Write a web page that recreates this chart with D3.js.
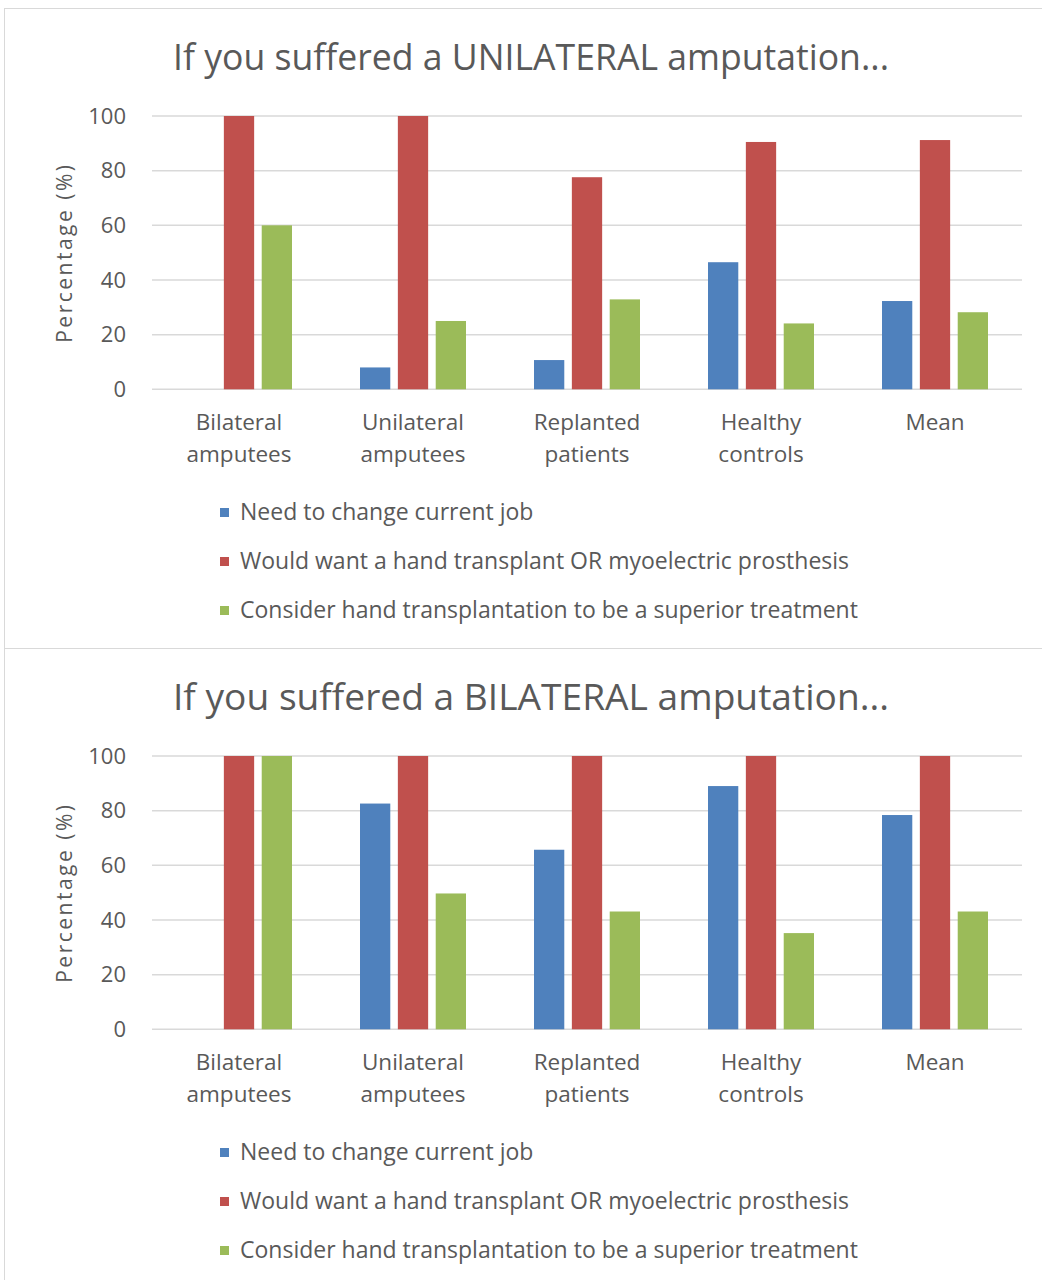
<!DOCTYPE html>
<html>
<head>
<meta charset="utf-8">
<script src="https://cdn.jsdelivr.net/npm/d3@7"></script>
<style>
  body { margin: 0; background: #fff; }
  text { font-family: "Open Sans", sans-serif; fill: #595959; }
</style>
</head>
<body>
<div id="chart"></div>
<script>
// Data
const categories = [["Bilateral", "amputees"], ["Unilateral", "amputees"], ["Replanted", "patients"], ["Healthy", "controls"], ["Mean"]];
const seriesNames = [
    "Need to change current job",
    "Would want a hand transplant OR myoelectric prosthesis",
    "Consider hand transplantation to be a superior treatment"
];
const colors = ["#4F81BD", "#C0504D", "#9BBB59"];
const yTicks = [0, 20, 40, 60, 80, 100];

const uniChangeJob = [0, 8, 10.7, 46.5, 32.3];
const uniWantTransplant = [100, 100, 77.6, 90.5, 91.2];
const uniSuperior = [60, 25, 32.9, 24.1, 28.2];

const biChangeJob = [0, 82.6, 65.7, 89, 78.4];
const biWantTransplant = [100, 100, 100, 100, 100];
const biSuperior = [100, 49.7, 43.1, 35.2, 43.1];

const width = 1042, height = 1280;

const svg = d3.select("#chart")
    .append("svg")
    .attr("width", width)
    .attr("height", height);

function drawChart(top, title, series) {
    const g = svg.append("g").attr("transform", `translate(0,${top})`);

    // box
    g.append("rect")
        .attr("x", 4.5).attr("y", 0.5)
        .attr("width", 1040).attr("height", 640)
        .attr("fill", "none")
        .attr("stroke", "#d9d9d9");

    g.append("text")
        .attr("x", 531).attr("y", 62)
        .attr("text-anchor", "middle")
        .attr("font-size", 36)
        .attr("textLength", 716)
        .attr("lengthAdjust", "spacingAndGlyphs")
        .text(title);

    const x = d3.scaleBand().domain(d3.range(categories.length)).range([152, 1022]);
    const y = d3.scaleLinear().domain([0, 100]).range([381.3, 108]);
    const inner = d3.scaleBand().domain(d3.range(series.length)).range([-53, 53]).paddingInner(0.2);

    // gridlines
    g.append("g")
        .selectAll("line")
        .data(yTicks)
        .join("line")
        .attr("x1", 152).attr("x2", 1022)
        .attr("y1", d => y(d)).attr("y2", d => y(d))
        .attr("stroke", "#d9d9d9")
        .attr("stroke-width", 1.5);

    // y axis
    const yAxis = g.append("g")
        .attr("transform", "translate(126,0)")
        .call(d3.axisLeft(y).tickValues(yTicks).tickSize(0).tickPadding(0));
    yAxis.select(".domain").remove();
    yAxis.selectAll("text")
        .attr("font-size", 22)
        .attr("font-family", "Open Sans, sans-serif")
        .attr("fill", "#595959");

    g.append("text")
        .attr("transform", `translate(72,${y(50)}) rotate(-90)`)
        .attr("text-anchor", "middle")
        .attr("font-size", 21)
        .attr("letter-spacing", 2.5)
        .text("Percentage (%)");

    // bars
    series.forEach((vals, si) => {
        g.append("g")
            .selectAll("rect")
            .data(vals)
            .join("rect")
            .attr("x", (d, i) => x(i) + x.bandwidth() / 2 + inner(si))
            .attr("width", inner.bandwidth())
            .attr("y", d => y(d))
            .attr("height", d => y(0) - y(d))
            .attr("fill", colors[si]);
    });

    // category labels
    const cat = g.append("g")
        .selectAll("text")
        .data(categories)
        .join("text")
        .attr("x", (d, i) => x(i) + x.bandwidth() / 2)
        .attr("y", 422)
        .attr("text-anchor", "middle")
        .attr("font-size", 22.5);
    cat.selectAll("tspan")
        .data(d => d)
        .join("tspan")
        .attr("x", function() { return this.parentNode.getAttribute("x"); })
        .attr("dy", (d, i) => i === 0 ? 0 : 32)
        .text(d => d);

    // legend
    const legend = g.append("g")
        .selectAll("g")
        .data(seriesNames)
        .join("g")
        .attr("transform", (d, i) => `translate(220,${504 + i * 49})`);
    legend.append("rect")
        .attr("width", 9).attr("height", 9)
        .attr("y", -4)
        .attr("fill", (d, i) => colors[i]);
    legend.append("text")
        .attr("x", 20).attr("y", 8)
        .attr("font-size", 23)
        .text(d => d);
}

drawChart(8, "If you suffered a UNILATERAL amputation...", [uniChangeJob, uniWantTransplant, uniSuperior]);
drawChart(648, "If you suffered a BILATERAL amputation...", [biChangeJob, biWantTransplant, biSuperior]);
</script>
</body>
</html>
